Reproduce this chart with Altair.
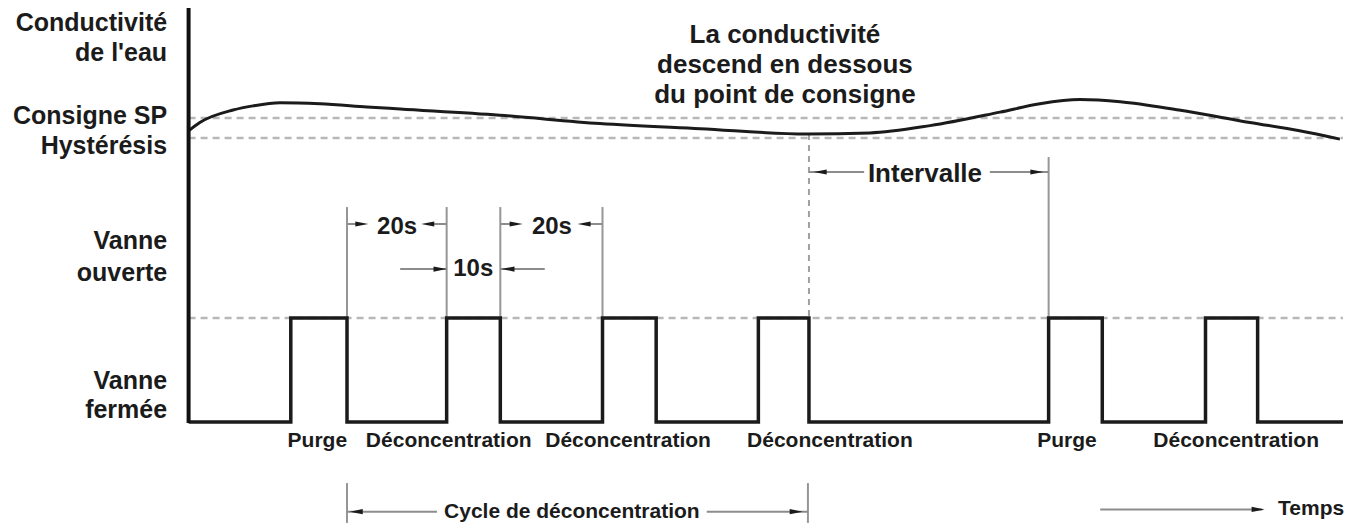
import altair as alt
import pandas as pd

# ---------------- data (time in s, level: 0 = vanne fermée, 1 = vanne ouverte) ----------------
curve_t = [0, 2.2, 8.7, 12.6, 17.9, 25.7, 34.9, 41.4, 60.9, 80.5, 100.1, 121.0, 133.3, 145.1,
           158.8, 166.6, 174.4, 182.3, 193.8, 207.7, 217.4, 225.3]
curve_level = [2.80, 2.88, 3.00, 3.04, 3.07, 3.06, 3.03, 3.01, 2.95, 2.87, 2.82, 2.77, 2.78, 2.85,
               2.98, 3.06, 3.10, 3.08, 3.00, 2.88, 2.80, 2.72]

valve_t = [0, 20, 31, 50.5, 61, 81, 91.5, 111.5, 121.4, 168.3, 178.8, 199, 209.2, 225.9]
valve_state = [0, 1, 0, 1, 0, 1, 0, 1, 0, 1, 0, 1, 0, 0]

ref_names = ["Consigne SP", "Hystérésis", "Vanne ouverte"]
ref_levels = [2.923, 2.731, 1.0]
ref_start = [0, 0, 0]
ref_end = [225.9, 225.9, 225.9]

left_labels = ["Conductivité", "de l'eau", "Consigne SP", "Hystérésis",
               "Vanne", "ouverte", "Vanne", "fermée"]
left_levels = [3.836, 3.553, 2.942, 2.654, 1.740, 1.433, 0.394, 0.115]

note_lines = ["La conductivité", "descend en dessous", "du point de consigne"]
note_levels = [3.721, 3.433, 3.144]
note_t = 116.7

event_labels = ["Purge", "Déconcentration", "Déconcentration", "Déconcentration",
                "Purge", "Déconcentration"]
event_t = [25.2, 50.9, 86.0, 125.5, 171.9, 205.0]
event_level = -0.183

dim_labels = ["20s", "20s", "10s", "Intervalle", "Cycle de déconcentration"]
dim_label_t = [40.8, 71.1, 55.7, 144.1, 75.0]
dim_label_level = [1.875, 1.875, 1.471, 2.385, -0.862]
dim_label_size = [24, 24, 24, 26, 21]

# dimension line segments
seg_t1 = [31, 46.8, 61, 77.8, 41.4, 61, 121.4, 156.8, 31, 101.4, 178.4]
seg_t2 = [34.0, 50.5, 64.0, 81, 50.5, 69.7, 132.2, 168.3, 48.6, 121.2, 210.1]
seg_level = [1.904, 1.904, 1.904, 1.904, 1.471, 1.471, 2.404, 2.404, -0.862, -0.862, -0.840]

# arrowheads
arrow_t = [33.9, 46.8, 64.1, 77.4, 49.2, 62.5, 123.6, 166.0, 32.8, 118.9, 209.3]
arrow_level = [1.904, 1.904, 1.904, 1.904, 1.471, 1.471, 2.404, 2.404, -0.862, -0.862, -0.840]
arrow_dir = ["right", "left", "right", "left", "right", "left", "left", "right", "left", "right", "right"]

# extension lines
ext_t = [31, 50.5, 61, 81, 168.3, 31, 121.2]
ext_top = [2.067, 2.067, 2.067, 2.067, 2.548, -0.587, -0.587]
ext_bottom = [1.0, 1.0, 1.0, 1.0, 1.0, -0.97, -0.97]

threshold_t = [121.4]
threshold_top = [2.77]
threshold_bottom = [1.0]

# ---------------- scales ----------------
W, H = 1346, 515
T0, T1 = -35.34, 228.06
L1 = 3.981
L0 = L1 - H / 104.0
xs = alt.Scale(domain=[T0, T1], nice=False, zero=False)
ys = alt.Scale(domain=[L0, L1], nice=False, zero=False)

INK = "#1b1b1b"
FONT = "Liberation Sans"

def X(f):
    return alt.X(f, type="quantitative", scale=xs, axis=None)

def Y(f):
    return alt.Y(f, type="quantitative", scale=ys, axis=None)

refs = pd.DataFrame({"name": ref_names, "lv": ref_levels, "a": ref_start, "b": ref_end})
ref_layer = alt.Chart(refs).mark_rule(color="#b8b8b8", strokeWidth=2.5, strokeDash=[7, 5]).encode(
    x=X("a"), x2="b", y=Y("lv"))

ext = pd.DataFrame({"t": ext_t, "top": ext_top, "bot": ext_bottom})
ext_layer = alt.Chart(ext).mark_rule(color="#969696", strokeWidth=2).encode(
    x=X("t"), y=Y("top"), y2="bot")

thr = pd.DataFrame({"t": threshold_t, "top": threshold_top, "bot": threshold_bottom})
thr_layer = alt.Chart(thr).mark_rule(color="#a0a0a0", strokeWidth=2, strokeDash=[6, 5]).encode(
    x=X("t"), y=Y("top"), y2="bot")

segs = pd.DataFrame({"a": seg_t1, "b": seg_t2, "lv": seg_level})
seg_layer = alt.Chart(segs).mark_rule(color="#8c8c8c", strokeWidth=2).encode(
    x=X("a"), x2="b", y=Y("lv"))

arrow_paths = {"right": "M-1,-0.4L1,0L-1,0.4Z", "left": "M1,-0.4L-1,0L1,0.4Z"}
arrows = pd.DataFrame({"t": arrow_t, "lv": arrow_level,
                       "shape": [arrow_paths[d] for d in arrow_dir]})
arrow_layer = alt.Chart(arrows).mark_point(filled=True, color=INK, opacity=1, size=170).encode(
    x=X("t"), y=Y("lv"), shape=alt.Shape("shape:N", scale=None))

axis_df = pd.DataFrame({"t": [0], "top": [L1], "bot": [-0.01]})
axis_layer = alt.Chart(axis_df).mark_rule(color="#111111", strokeWidth=4).encode(
    x=X("t"), y=Y("top"), y2="bot")

curve = pd.DataFrame({"t": curve_t, "lv": curve_level})
curve_layer = alt.Chart(curve).mark_line(interpolate="monotone", color=INK, strokeWidth=3).encode(
    x=X("t"), y=Y("lv"))

valve = pd.DataFrame({"t": valve_t, "lv": valve_state, "o": list(range(len(valve_t)))})
valve_layer = alt.Chart(valve).mark_line(interpolate="step-after", color=INK, strokeWidth=3.5).encode(
    x=X("t"), y=Y("lv"), order="o:Q")

left = pd.DataFrame({"txt": left_labels, "lv": left_levels, "t": [-4.2] * len(left_labels)})
left_layer = alt.Chart(left).mark_text(align="right", baseline="middle", font=FONT,
                                       fontWeight="bold", fontSize=25, color=INK).encode(
    x=X("t"), y=Y("lv"), text="txt:N")

note = pd.DataFrame({"txt": note_lines, "lv": note_levels, "t": [note_t] * len(note_lines)})
note_layer = alt.Chart(note).mark_text(align="center", baseline="middle", font=FONT,
                                       fontWeight="bold", fontSize=26, color=INK).encode(
    x=X("t"), y=Y("lv"), text="txt:N")

ev = pd.DataFrame({"txt": event_labels, "t": event_t, "lv": [event_level] * len(event_labels)})
ev_layer = alt.Chart(ev).mark_text(align="center", baseline="middle", font=FONT,
                                   fontWeight="bold", fontSize=21, color=INK).encode(
    x=X("t"), y=Y("lv"), text="txt:N")

dims = pd.DataFrame({"txt": dim_labels, "t": dim_label_t, "lv": dim_label_level, "fs": dim_label_size})
dim_layer = alt.Chart(dims).mark_text(align="center", baseline="middle", font=FONT,
                                      fontWeight="bold", color=INK).encode(
    x=X("t"), y=Y("lv"), text="txt:N", size=alt.Size("fs:Q", scale=None))

temps = pd.DataFrame({"txt": ["Temps"], "t": [213.2], "lv": [-0.840]})
temps_layer = alt.Chart(temps).mark_text(align="left", baseline="middle", font=FONT,
                                         fontWeight="bold", fontSize=21, color=INK).encode(
    x=X("t"), y=Y("lv"), text="txt:N")

chart = alt.layer(
    ref_layer, ext_layer, thr_layer, seg_layer, arrow_layer,
    curve_layer, valve_layer, axis_layer,
    left_layer, note_layer, ev_layer, dim_layer, temps_layer,
).properties(
    width=W, height=H, padding=0, autosize=alt.AutoSizeParams(type="none"),
    background="white",
).configure_view(strokeWidth=0)

chart.save("out.html", embed_options={"renderer": "svg", "actions": False})
